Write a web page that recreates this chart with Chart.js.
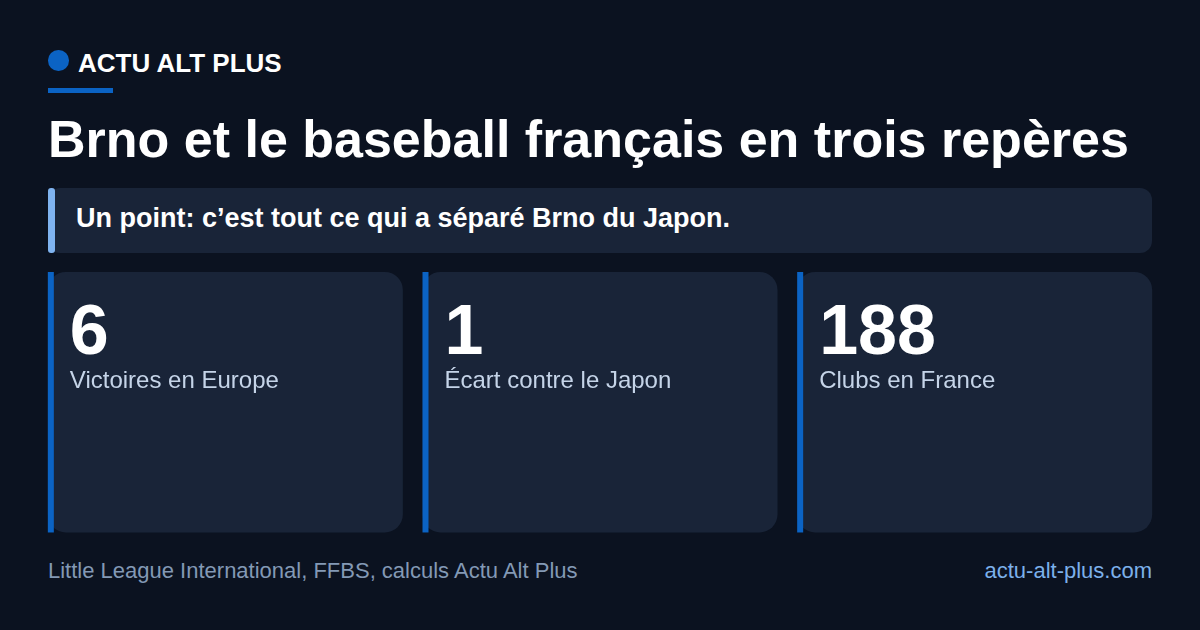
<!DOCTYPE html>
<html lang="fr">
<head>
<meta charset="utf-8">
<title>Brno et le baseball français en trois repères</title>
<script src="https://cdn.jsdelivr.net/npm/chart.js@4"></script>
<style>
  html, body { margin: 0; padding: 0; }
  body { width: 1200px; height: 630px; background: #0b1220; overflow: hidden; position: relative;
         font-family: "Liberation Sans", Arial, sans-serif; color: #fff; }
  .abs { position: absolute; white-space: nowrap; }
  #dot { left: 48px; top: 50px; width: 20.6px; height: 20.6px; border-radius: 50%; background: #0b63c4; }
  #brand { left: 78px; top: 47px; font-size: 26px; line-height: 32px; font-weight: 700; }
  #rule { left: 48px; top: 88px; width: 64.6px; height: 5.4px; background: #0b63c4; }
  #title { left: 48px; top: 106px; font-size: 52px; line-height: 66px; font-weight: 700; }
  #banner { left: 48px; top: 188px; width: 1104px; height: 64.5px; background: #192438; border-radius: 12px; }
  #bannerBar { left: 48px; top: 188px; width: 6.5px; height: 64.5px; background: #7fb3ef; border-radius: 3px; }
  #quote { left: 76px; top: 202px; font-size: 27px; line-height: 32px; font-weight: 700; }
  #chartWrap { left: 38px; top: 272px; width: 1124px; height: 261px; }
  .value { font-size: 70px; line-height: 80px; font-weight: 700; }
  .label { font-size: 24px; line-height: 30px; color: #c5d4e8; }
  #source { left: 48px; top: 557px; font-size: 22px; line-height: 28px; color: #8399b5; }
  #site { right: 48px; top: 557px; font-size: 22px; line-height: 28px; color: #7cb0ea; }
</style>
</head>
<body>
<div class="abs" id="dot"></div>
<div class="abs" id="brand">ACTU ALT PLUS</div>
<div class="abs" id="rule"></div>
<div class="abs" id="title">Brno et le baseball français en trois repères</div>
<div class="abs" id="banner"></div>
<div class="abs" id="bannerBar"></div>
<div class="abs" id="quote">Un point: c’est tout ce qui a séparé Brno du Japon.</div>
<div class="abs" id="chartWrap"><canvas id="chart"></canvas></div>
<div class="abs" id="source">Little League International, FFBS, calculs Actu Alt Plus</div>
<div class="abs" id="site">actu-alt-plus.com</div>

<script>
// the three figures shown on the cards
var categories = ['Victoires en Europe', 'Écart contre le Japon', 'Clubs en France'];
var values = [6, 1, 188];
// every card is the same size, whatever its figure
var cardExtent = [[0.002, 1], [0.002, 1], [0.002, 1]];

var accent = '#0b63c4';

// square blue strip on the left edge of each card
var accentStrip = {
  id: 'accentStrip',
  afterDatasetsDraw: function (chart) {
    var ctx = chart.ctx;
    ctx.save();
    ctx.fillStyle = accent;
    chart.getDatasetMeta(0).data.forEach(function (bar) {
      var left = bar.x - bar.width / 2;
      ctx.fillRect(left, bar.y, 6, bar.base - bar.y);
    });
    ctx.restore();
  }
};

var chart = new Chart(document.getElementById('chart').getContext('2d'), {
  type: 'bar',
  data: {
    labels: categories,
    datasets: [{
      data: cardExtent,
      backgroundColor: '#192438',
      borderRadius: 18,
      borderSkipped: false,
      categoryPercentage: 1,
      barPercentage: 355 / (1124 / 3)
    }]
  },
  options: {
    responsive: true,
    maintainAspectRatio: false,
    animation: false,
    layout: { padding: 0 },
    plugins: { legend: { display: false }, tooltip: { enabled: false } },
    scales: {
      x: { display: false },
      y: { display: false, min: 0, max: 1 }
    }
  },
  plugins: [accentStrip]
});

// figures and captions sit on the bars, placed from the chart's own geometry
var wrap = document.getElementById('chartWrap');
chart.getDatasetMeta(0).data.forEach(function (bar, i) {
  var left = bar.x - bar.width / 2 + 22;
  var v = document.createElement('div');
  v.className = 'abs value';
  v.textContent = values[i];
  v.style.left = left + 'px';
  v.style.top = '18px';
  wrap.appendChild(v);
  var l = document.createElement('div');
  l.className = 'abs label';
  l.textContent = categories[i];
  l.style.left = left + 'px';
  l.style.top = '93px';
  wrap.appendChild(l);
});
</script>
</body>
</html>
